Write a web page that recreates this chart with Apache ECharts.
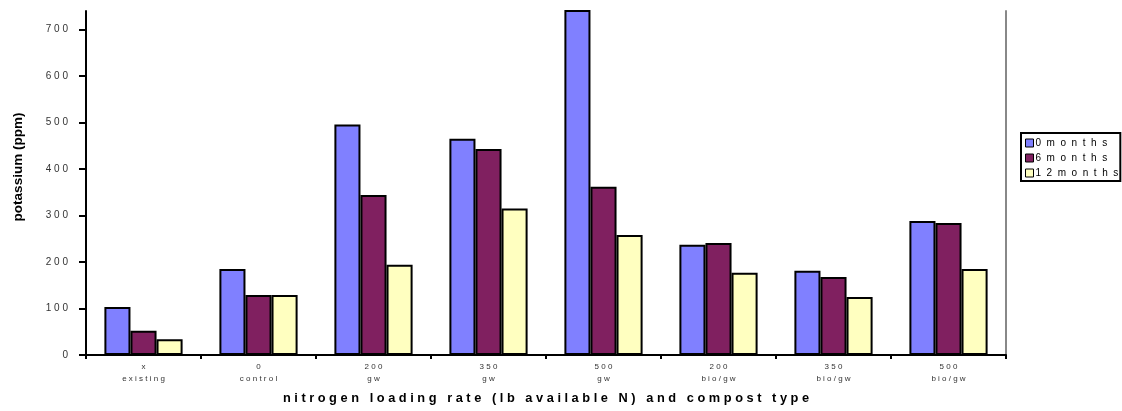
<!DOCTYPE html>
<html>
<head>
<meta charset="utf-8">
<script src="https://cdn.jsdelivr.net/npm/echarts@6/dist/echarts.min.js"></script>
<style>
  html, body { margin: 0; padding: 0; background: #fff; }
  #chart { width: 1122px; height: 411px; }
</style>
</head>
<body>
<div id="chart"></div>
<script>
// Nitrogen rate / compost type groups (two-line labels)
const rates = ['x', '0', '200', '350', '500', '200', '350', '500'];
const composts = ['existing', 'control', 'gw', 'gw', 'gw', 'bio/gw', 'bio/gw', 'bio/gw'];

// Soil potassium (ppm) after each sampling interval
const seriesNames = ['0 months', '6 months', '12 months'];
const months0 = [103, 185, 496, 465, 790, 237, 181, 288];
const months6 = [52, 129, 344, 443, 362, 241, 168, 284];
const months12 = [34, 129, 194, 315, 258, 177, 125, 185];

const yTicks = [0, 100, 200, 300, 400, 500, 600, 700];
const yMax = 740;

const colors = ['#8080ff', '#802060', '#ffffc0'];
const FONT = '"Liberation Sans", Arial, Helvetica, sans-serif';

// widen letter spacing by placing a separator between characters
function spaced(str, sep) {
  return Array.from(str).join(sep === undefined ? ' ' : sep);
}

const categories = rates.map((r, i) => r + '\n' + composts[i]);
const values = [months0, months6, months12];

const chart = echarts.init(document.getElementById('chart'), null, { renderer: 'canvas' });

chart.setOption({
  animation: false,
  backgroundColor: '#ffffff',
  textStyle: { fontFamily: FONT },
  grid: { left: 86, right: 116, top: 11, bottom: 56, containLabel: false, outerBoundsMode: 'none' },
  legend: {
    orient: 'vertical',
    left: 1021,
    top: 133,
    backgroundColor: '#ffffff',
    borderColor: '#000000',
    borderWidth: 2,
    borderRadius: 0,
    padding: [5, 2, 3, 4],
    itemGap: 5,
    itemWidth: 8,
    itemHeight: 8,
    icon: 'rect',
    itemStyle: { borderColor: '#000000', borderWidth: 1 },
    textStyle: { fontFamily: FONT, fontSize: 10, color: '#000000', padding: [0, 0, 0, -3] },
    formatter: name => spaced(name.replace(' ', ''), '  '),
    data: seriesNames
  },
  xAxis: {
    type: 'category',
    data: categories,
    name: spaced('nitrogen loading rate (lb available N) and compost type'),
    nameLocation: 'middle',
    nameGap: 37,
    nameTextStyle: { fontFamily: FONT, fontSize: 12.8, fontWeight: 'bold', color: '#000000' },
    axisLine: { show: true, lineStyle: { color: '#000000', width: 2 } },
    axisTick: { show: true, alignWithLabel: false, length: 4, lineStyle: { color: '#000000', width: 2 } },
    axisLabel: {
      fontFamily: FONT,
      fontSize: 8,
      color: '#333333',
      lineHeight: 12,
      margin: 6,
      interval: 0,
      formatter: v => v.split('\n').map(s => spaced(s)).join('\n')
    },
    splitLine: { show: false }
  },
  yAxis: [
    {
      type: 'value',
      min: 0,
      max: yMax,
      interval: 100,
      axisLine: { show: true, lineStyle: { color: '#000000', width: 2 } },
      axisTick: { show: true, length: 7, customValues: yTicks, lineStyle: { color: '#000000', width: 2 } },
      axisLabel: {
        customValues: yTicks,
        fontFamily: FONT,
        fontSize: 10,
        color: '#333333',
        margin: 18,
        formatter: v => spaced(String(v))
      },
      splitLine: { show: false }
    },
    {
      type: 'value',
      min: 0,
      max: yMax,
      position: 'right',
      axisLine: { show: true, lineStyle: { color: '#888888', width: 2 } },
      axisTick: { show: false },
      axisLabel: { show: false },
      splitLine: { show: false }
    }
  ],
  graphic: [
    {
      type: 'text',
      x: 18,
      y: 167,
      rotation: Math.PI / 2,
      style: {
        text: 'potassium (ppm)',
        font: 'bold 13.5px ' + FONT,
        fill: '#000000',
        align: 'center',
        verticalAlign: 'middle'
      }
    }
  ],
  series: seriesNames.map((name, i) => ({
    name,
    type: 'bar',
    yAxisIndex: 0,
    data: values[i],
    barGap: '0%',
    barCategoryGap: '32%',
    clip: true,
    itemStyle: { color: colors[i], borderColor: '#000000', borderWidth: 2 },
    emphasis: { disabled: true }
  }))
});
</script>
</body>
</html>
